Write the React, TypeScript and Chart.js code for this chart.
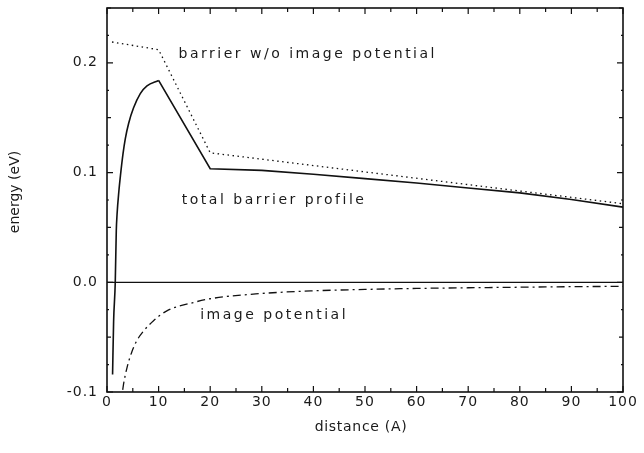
import { useEffect, useRef } from 'react';
import { Chart, registerables } from 'chart.js';

Chart.register(...registerables);

// total barrier profile: rising part (0..10 A) and linear part (10..100 A)
const riseDist = [1.08, 1.28, 1.6, 1.8, 1.95, 2.3, 2.6, 3.1, 3.55, 4.2, 5.15, 6.45, 7.75, 10];
const riseEnergy = [-0.084, -0.036, 0, 0.047, 0.062, 0.083, 0.097, 0.117, 0.131, 0.145, 0.159, 0.172, 0.179, 0.184];
const tailDist = [10, 20, 30, 40, 50, 60, 70, 80, 90, 100];
const tailEnergy = [0.184, 0.1035, 0.102, 0.0985, 0.0945, 0.0905, 0.086, 0.0815, 0.0755, 0.0685];

// barrier without image potential
const woDist = [0.97, 10, 20, 100];
const woEnergy = [0.219, 0.212, 0.118, 0.0716];

// image potential
const imageDist = [3.05, 3.2, 3.87, 4.84, 5.8, 7.08, 9.02, 11.6, 16.7, 20, 29.7, 40, 50, 60, 70, 80, 90, 100];
const imageEnergy = [-0.098, -0.093, -0.078, -0.063, -0.053, -0.0445, -0.035, -0.026, -0.0185, -0.015, -0.0103, -0.0078, -0.0065, -0.0056, -0.005, -0.0045, -0.004, -0.0037];

// zero reference line
const zeroDist = [0, 100];
const zeroEnergy = [0, 0];

// axis ticks
const xTickValues = [0, 10, 20, 30, 40, 50, 60, 70, 80, 90, 100];
const xMarkValues = [0, 5, 10, 15, 20, 25, 30, 35, 40, 45, 50, 55, 60, 65, 70, 75, 80, 85, 90, 95, 100];
const yTickValues = [-0.1, 0, 0.1, 0.2];
const yMarkValues = [-0.1, -0.075, -0.05, -0.025, 0, 0.025, 0.05, 0.075, 0.1, 0.125, 0.15, 0.175, 0.2, 0.225, 0.25];

// in-plot annotations (anchored in data units)
const labelTexts = ['barrier w/o image potential', 'total barrier profile', 'image potential'];
const labelDist = [13.86, 14.5, 18.06];
const labelEnergy = [0.204, 0.071, -0.0334];

const xTitle = 'distance (A)';
const yTitle = 'energy (eV)';

const zip = (xs: number[], ys: number[]) => xs.map((x, i) => ({ x, y: ys[i] }));

const FONT = '"DejaVu Sans", sans-serif';
const INK = '#1a1a1a';

const decorPlugin = {
  id: 'decor',
  beforeDraw(chart: any) {
    chart.ctx.letterSpacing = '1px';
  },
  afterDraw(chart: any) {
    const { ctx, chartArea: a, scales } = chart;
    const xs = scales.x;
    const ys = scales.y;
    ctx.save();
    ctx.letterSpacing = '0px';
    ctx.strokeStyle = '#111';
    ctx.lineWidth = 1.6;
    ctx.strokeRect(a.left, a.top, a.right - a.left, a.bottom - a.top);

    ctx.lineWidth = 1.2;
    ctx.beginPath();
    for (const v of xMarkValues) {
      const p = xs.getPixelForValue(v);
      const len = v % 10 === 0 ? 6 : 4;
      ctx.moveTo(p, a.bottom);
      ctx.lineTo(p, a.bottom - len);
      ctx.moveTo(p, a.top);
      ctx.lineTo(p, a.top + len);
    }
    for (const v of yMarkValues) {
      const p = ys.getPixelForValue(v);
      const r10 = Math.abs(v * 10 - Math.round(v * 10)) < 1e-6;
      const r20 = Math.abs(v * 20 - Math.round(v * 20)) < 1e-6;
      const len = r10 ? 6 : r20 ? 4 : 2;
      ctx.moveTo(a.left, p);
      ctx.lineTo(a.left + len, p);
      ctx.moveTo(a.right, p);
      ctx.lineTo(a.right - len, p);
    }
    ctx.stroke();

    // annotations
    ctx.fillStyle = INK;
    ctx.font = `14px ${FONT}`;
    ctx.textAlign = 'left';
    ctx.textBaseline = 'alphabetic';
    ctx.letterSpacing = '2.5px';
    labelTexts.forEach((t, i) => {
      ctx.fillText(t, xs.getPixelForValue(labelDist[i]), ys.getPixelForValue(labelEnergy[i]));
    });

    // axis titles
    ctx.letterSpacing = '0.7px';
    ctx.textAlign = 'center';
    ctx.textBaseline = 'middle';
    ctx.fillText(xTitle, (a.left + a.right) / 2 - 4, 427.5);
    ctx.letterSpacing = '0px';
    ctx.translate(15, (a.top + a.bottom) / 2 - 8);
    ctx.rotate(-Math.PI / 2);
    ctx.fillText(yTitle, 0, 0);
    ctx.restore();
  },
};

export default function App() {
  const ref = useRef<HTMLCanvasElement | null>(null);

  useEffect(() => {
    if (!ref.current) return;
    const chart = new Chart(ref.current, {
      type: 'line',
      data: {
        datasets: [
          {
            data: zip(zeroDist, zeroEnergy),
            borderColor: '#111',
            borderWidth: 1.3,
            pointRadius: 0,
          },
          {
            data: zip(woDist, woEnergy),
            borderColor: '#111',
            borderWidth: 1.3,
            borderDash: [1.5, 3.5],
            pointRadius: 0,
          },
          {
            data: zip(riseDist, riseEnergy),
            borderColor: '#111',
            borderWidth: 1.6,
            cubicInterpolationMode: 'monotone',
            pointRadius: 0,
          },
          {
            data: zip(tailDist, tailEnergy),
            borderColor: '#111',
            borderWidth: 1.6,
            pointRadius: 0,
          },
          {
            data: zip(imageDist, imageEnergy),
            borderColor: '#111',
            borderWidth: 1.3,
            borderDash: [8, 4, 2, 4],
            cubicInterpolationMode: 'monotone',
            pointRadius: 0,
          },
        ],
      },
      options: {
        responsive: false,
        animation: false,
        events: [],
        layout: { autoPadding: false, padding: { top: 8, right: 21, left: 0, bottom: 0 } },
        plugins: { legend: { display: false }, tooltip: { enabled: false } },
        scales: {
          x: {
            type: 'linear',
            min: 0,
            max: 100,
            grid: { display: false, drawTicks: false },
            border: { display: false },
            afterBuildTicks: (s: any) => {
              s.ticks = xTickValues.map((value) => ({ value }));
            },
            afterFit: (s: any) => {
              s.height = 61;
              s.paddingLeft = 0;
              s.paddingRight = 0;
            },
            ticks: {
              padding: 2,
              maxRotation: 0,
              autoSkip: false,
              color: INK,
              font: { family: FONT, size: 14 },
              callback: (v: any) => String(v),
            },
          },
          y: {
            type: 'linear',
            min: -0.1,
            max: 0.25,
            grid: { display: false, drawTicks: false },
            border: { display: false },
            afterBuildTicks: (s: any) => {
              s.ticks = yTickValues.map((value) => ({ value }));
            },
            afterFit: (s: any) => {
              s.width = 107;
              s.paddingTop = 0;
              s.paddingBottom = 0;
            },
            ticks: {
              padding: 9,
              autoSkip: false,
              color: INK,
              font: { family: FONT, size: 14 },
              callback: (v: any) => Number(v).toFixed(1),
            },
          },
        },
      },
      plugins: [decorPlugin],
    } as any);
    return () => chart.destroy();
  }, []);

  return (
    <div style={{ position: 'absolute', left: 0, top: 0, width: 644, height: 453, background: '#fff' }}>
      <canvas ref={ref} width={644} height={453} style={{ display: 'block' }} />
    </div>
  );
}
